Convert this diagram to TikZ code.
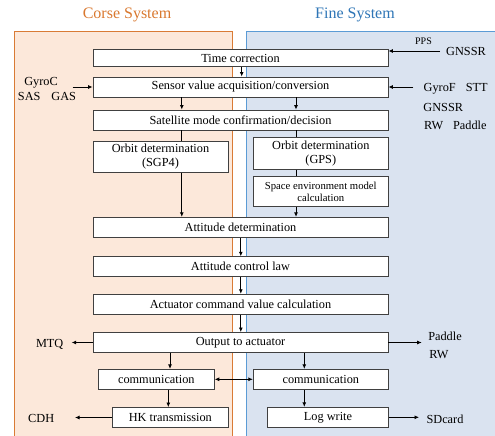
\documentclass[tikz,border=0pt]{standalone}
\usepackage{fontspec}
\setmainfont{Liberation Serif}
\usetikzlibrary{arrows.meta}
\definecolor{corsefill}{HTML}{FCE8DA}
\definecolor{corseline}{HTML}{D97B35}
\definecolor{corsetitle}{HTML}{D9782F}
\definecolor{finefill}{HTML}{DAE3F0}
\definecolor{fineline}{HTML}{5B9BD5}
\definecolor{finetitle}{HTML}{2E75B6}
\definecolor{boxline}{HTML}{404040}
\begin{document}
\begin{tikzpicture}[x=1pt,y=-1pt,
  box/.style={draw=boxline, line width=0.9pt, fill=white, inner sep=0pt,
    align=center, font=\fontsize{12.3}{13.5}\selectfont},
  wide/.style={box, minimum width=295pt, minimum height=20pt},
  arr/.style={-{Latex[length=4.5pt,width=4pt]}, line width=0.8pt},
  dblarr/.style={{Latex[length=4.5pt,width=4pt]}-{Latex[length=4.5pt,width=4pt]}, line width=0.8pt},
  link/.style={line width=0.8pt},
  lbl/.style={inner sep=0pt, font=\fontsize{12.3}{13.5}\selectfont},
  title/.style={inner sep=0pt, font=\fontsize{16}{18}\selectfont},
]
\useasboundingbox (0,0) rectangle (495,436);

% the two subsystem panels
\draw[corseline, fill=corsefill, line width=0.8pt] (14,31) rectangle (232,440);
\draw[fineline, fill=finefill, line width=0.8pt] (246,31) rectangle (500,440);
\node[title, text=corsetitle] (tcorse) at (127,15) {Corse System};
\node[title, text=finetitle] (tfine) at (355,15) {Fine System};

% processing steps
\node[wide, minimum height=17.5pt] (time) at (240.5,58) {Time correction};
\node[wide] (sensor) at (240.5,87) {Sensor value acquisition/conversion};
\node[wide] (mode) at (240.5,120) {Satellite mode confirmation/decision};
\node[box, minimum width=135pt, minimum height=31pt] (sgp) at (160.5,156.6) {Orbit determination\\(SGP4)};
\node[box, minimum width=135pt, minimum height=32pt] (gps) at (320.8,153.3) {Orbit determination\\(GPS)};
\node[box, minimum width=135pt, minimum height=30pt, font=\fontsize{10.7}{12.5}\selectfont] (env) at (320.8,191.7) {Space environment model\\calculation};
\node[wide] (att) at (240.5,227.3) {Attitude determination};
\node[wide] (law) at (240.5,266.7) {Attitude control law};
\node[wide] (cmd) at (240.5,304.2) {Actuator command value calculation};
\node[wide] (out) at (240.5,342.5) {Output to actuator};
\node[box, minimum width=116pt, minimum height=20pt] (coml) at (156.3,379.3) {communication};
\node[box, minimum width=135pt, minimum height=20pt] (comr) at (320.8,379.3) {communication};
\node[box, minimum width=116pt, minimum height=20pt] (hk) at (170.3,417.5) {HK transmission};
\node[box, minimum width=121pt, minimum height=20pt] (logw) at (328,417.3) {Log write};

% external devices
\node[lbl] (gyroc) at (41,82.3) {GyroC};
\node[lbl] (sasgas) at (47,96) {SAS\hspace{11pt}GAS};
\node[lbl, font=\fontsize{10}{11}\selectfont] (pps) at (423.5,41.7) {PPS};
\node[lbl] (gnssrt) at (466,51) {GNSSR};
\node[lbl] (gyrof) at (455.7,88.3) {GyroF\hspace{10pt}STT};
\node[lbl] (gnssrm) at (443.3,107.7) {GNSSR};
\node[lbl] (rwpad) at (455.3,125) {RW\hspace{10pt}Paddle};
\node[lbl] (mtq) at (49.7,344) {MTQ};
\node[lbl] (paddle) at (445,336) {Paddle};
\node[lbl] (rw) at (439,355) {RW};
\node[lbl] (cdh) at (41.2,418.3) {CDH};
\node[lbl] (sdcard) at (445,419.5) {SDcard};

% columns used by the vertical connectors
\coordinate (xa) at (241.7,0);
\coordinate (xl) at (181.8,0);
\coordinate (xr) at (296,0);
\coordinate (xm) at (240.8,0);
\coordinate (xol) at (170,0);
\coordinate (xor) at (304.3,0);
\coordinate (xhl) at (168.3,0);

% free ends of the side connectors
\coordinate (cin) at (72.7,87);
\coordinate (fin) at (413.3,87);
\coordinate (pin) at (440,51);
\coordinate (mtqpt) at (71.7,342.5);
\coordinate (actpt) at (421.7,342.5);
\coordinate (cdhpt) at (75,417.5);
\coordinate (sdpt) at (419,417.3);

% flow
\draw[arr] (time.south -| xa) -- (sensor.north -| xa);
\draw[arr] (sensor.south -| xl) -- (mode.north -| xl);
\draw[arr] (sensor.south -| xr) -- (mode.north -| xr);
\draw[link] (mode.south -| xl) -- (sgp.north -| xl);
\draw[link] (mode.south -| xr) -- (gps.north -| xr);
\draw[arr] (sgp.south -| xl) -- (att.north -| xl);
\draw[link] (gps.south -| xr) -- (env.north -| xr);
\draw[arr] (env.south -| xr) -- (att.north -| xr);
\draw[arr] (att.south -| xm) -- (law.north -| xm);
\draw[arr] (law.south -| xm) -- (cmd.north -| xm);
\draw[arr] (cmd.south -| xm) -- (out.north -| xm);
\draw[arr] (out.south -| xol) -- (coml.north -| xol);
\draw[arr] (out.south -| xor) -- (comr.north -| xor);
\draw[dblarr] (coml.east) -- (comr.west);
\draw[arr] (coml.south -| xhl) -- (hk.north -| xhl);
\draw[arr] (comr.south -| xor) -- (logw.north -| xor);

% inputs and outputs
\draw[arr] (cin) -- (sensor.west);
\draw[arr] (fin) -- (sensor.east);
\draw[arr] (pin) -- (pin -| time.east);
\draw[arr] (out.west) -- (mtqpt);
\draw[arr] (out.east) -- (actpt);
\draw[arr] (hk.west) -- (cdhpt);
\draw[arr] (logw.east) -- (sdpt);
\end{tikzpicture}
\end{document}
